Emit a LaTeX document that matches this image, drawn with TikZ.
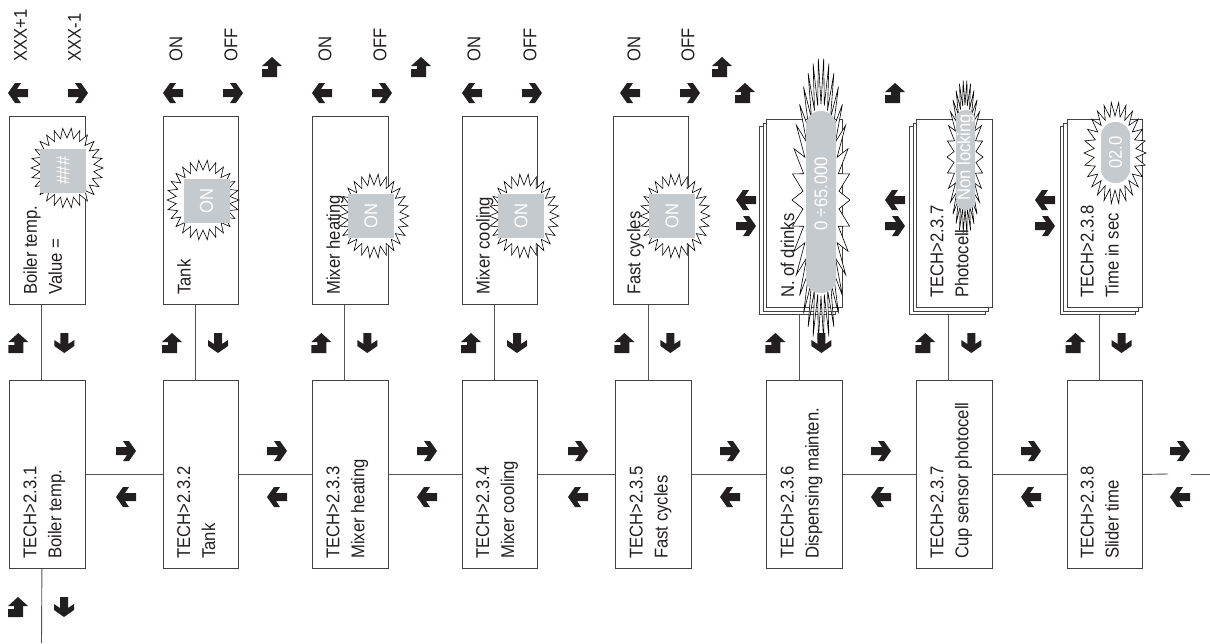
\documentclass[tikz,border=0pt]{standalone}
\usepackage{fontspec}
\setmainfont{Liberation Sans}[FakeStretch=0.9]
\definecolor{ink}{HTML}{231F20}
\definecolor{lcol}{HTML}{555555}
\definecolor{graybox}{HTML}{C5CACE}
\newcommand\zigstar[7]{%
  \pgfmathtruncatemacro\zzn{2*#7-1}%
  \draw[starline] ({#1+#3},{#2}) \foreach \k in {1,...,\zzn}{ -- ({#1+(#5+(#3-#5)*(1-mod(\k,2)))*cos(\k*180/#7)},{#2+(#6+(#4-#6)*(1-mod(\k,2)))*sin(\k*180/#7)}) } -- cycle;%
}
\tikzset{
  box/.style={draw=ink!85, line width=0.9pt, fill=white, inner sep=0pt, rectangle, minimum width=75.3pt, minimum height=188pt, anchor=north west},
  conn/.style={draw=lcol, line width=0.9pt},
  btxt/.style={rotate=90, anchor=north west, align=left, inner sep=0pt, text=ink, font=\fontsize{18.5}{25}\selectfont},
  lbl/.style={rotate=90, anchor=west, inner sep=0pt, text=ink, font=\fontsize{18.5}{22}\selectfont},
  wtxt/.style={rotate=90, inner sep=0pt, text=white, font=\fontsize{18.5}{22}\selectfont},
  starline/.style={draw=black, fill=white, line width=0.6pt, line join=miter},
  sq/.style={fill=graybox, draw=none, minimum width=46pt, minimum height=44pt, inner sep=0pt},
  pill/.style={fill=graybox, draw=none, inner sep=0pt},
  garrR/.pic={\fill[ink] (-10,-4) -- (1,-4) -- (-3,-10) -- (3,-10) -- (10,0) -- (3,10) -- (-3,10) -- (1,4) -- (-10,4) -- cycle;},
  garrL/.pic={\fill[ink] (10,-4) -- (-1,-4) -- (3,-10) -- (-3,-10) -- (-10,0) -- (-3,10) -- (3,10) -- (-1,4) -- (10,4) -- cycle;},
  garrD/.pic={\fill[ink] (-4,-10) -- (-4,1) -- (-10,-3) -- (-10,3) -- (0,10) -- (10,3) -- (10,-3) -- (4,1) -- (4,-10) -- cycle;},
  garrU/.pic={\fill[ink] (0,-10) -- (10,-1) -- (5,-1) -- (5,10) -- (-10,10) -- (-10,2) -- (-4,2) -- (-4,-1) -- (-10,-1) -- cycle;}
}
\begin{document}
\begin{tikzpicture}[x=1pt,y=-1pt]
\useasboundingbox (0,0) rectangle (1210,643);

% ---------- bottom row ----------
\foreach \L/\i in {9.3/1,163/2,312.3/3,462/4,615.4/5,766.4/6,916.3/7,1066.5/8}{
  \node[box] (b\i) at (\L,380) {};
}
\foreach \i/\j in {1/2,2/3,3/4,4/5,5/6,6/7,7/8}{
  \draw[conn] (b\i.east) -- (b\j.west);
}
\coordinate (rend1) at (1168,474);
\coordinate (rstart2) at (1191,474);
\coordinate (rend2) at (1210,474);
\draw[conn] (b8.east) -- (rend1);
\draw[conn] (rstart2) -- (rend2);
\coordinate (bend) at (41.5,643);
\draw[conn] ([xshift=-5.5pt]b1.south) -- (bend);

% ---------- top row single boxes ----------
\foreach \L/\i in {9.3/1,163/2,312.3/3,462/4,612.7/5}{
  \node[box] (t\i) at (\L,116) {};
}
% ---------- stacked boxes ----------
\foreach \L/\i in {766.4/6,916.3/7,1066.5/8}{
  \node[box] (t\i) at ({\L-7},126) {};
  \node[box] (t\i m) at ({\L-3.5},122.5) {};
  \node[box] (t\i f) at (\L,119) {};
}
% vertical connectors
\foreach \i in {1,...,8}{
  \draw[conn] ([xshift=-5.5pt]b\i.north) -- ([xshift=-5.5pt]b\i.north |- t\i.south);
}

% ---------- starbursts and displays ----------
\zigstar{67}{168}{36}{40}{27}{30}{26}
\zigstar{203}{200}{36}{40}{27}{30}{26}
\zigstar{374}{216}{35}{42}{26}{31}{26}
\zigstar{524}{216}{35}{42}{26}{31}{26}
\zigstar{675}{216}{35}{42}{26}{31}{26}
\zigstar{821}{200}{29}{142}{18}{96}{34}
\zigstar{965}{157}{18}{77}{11}{52}{30}
\zigstar{1115}{153}{31}{51}{21}{37}{26}

\node[sq] (g1) at (63,170.5) {};
\node[wtxt] (w1) at (g1) {\#\#\#};
\node[sq] (g2) at (206.5,201) {};
\node[wtxt] (w2) at (g2) {ON};
\node[sq] (g3) at (371,216) {};
\node[wtxt] (w3) at (g3) {ON};
\node[sq] (g4) at (521,216) {};
\node[wtxt] (w4) at (g4) {ON};
\node[sq] (g5) at (672,216) {};
\node[wtxt] (w5) at (g5) {ON};
\node[pill, minimum width=30pt, minimum height=182pt, rounded corners=14.5pt] (g6) at (821,202) {};
\node[wtxt] (w6) at (821,194) {0 ÷65.000};
\node[pill, minimum width=19pt, minimum height=100pt, rounded corners=9pt] (g7) at (965.5,160) {};
\begin{scope}
  \clip[rounded corners=9pt] (956,110) rectangle (975,210);
  \node[wtxt, anchor=west] (w7) at (965.5,201) {Non locking};
\end{scope}
\node[pill, minimum width=29pt, minimum height=61pt, rounded corners=14pt] (g8) at (1115.5,152.5) {};
\node[wtxt] (w8) at (g8) {02.0};

% ---------- box texts ----------
\foreach \L/\i/\t in {9.3/1/{Boiler temp.},163/2/{Tank},312.3/3/{Mixer heating},462/4/{Mixer cooling},615.4/5/{Fast cycles},766.4/6/{Dispensing mainten.},916.3/7/{Cup sensor photocell},1066.5/8/{Slider time}}{
  \node[btxt] (bt\i) at ({\L+14},559) {TECH>2.3.\i\\\t};
}
\node[btxt] (tt1) at (23.3,295) {Boiler temp.\\Value =};
\node[btxt] (tt2) at (177,295) {Tank};
\node[btxt] (tt3) at (326.3,295) {Mixer heating};
\node[btxt] (tt4) at (476,295) {Mixer cooling};
\node[btxt] (tt5) at (626.7,295) {Fast cycles};
\node[btxt] (tt6) at (780.4,298) {N. of drinks};
\node[btxt] (tt7) at (930.3,298) {TECH>2.3.7\\Photocell};
\node[btxt] (tt8) at (1080.5,298) {TECH>2.3.8\\Time in sec};

% ---------- labels above ----------
\node[lbl] (l1a) at (20.5,62) {XXX+1};
\node[lbl] (l1b) at (74.5,62) {XXX-1};
\node[lbl] (l2a) at (176,62) {ON};
\node[lbl] (l2b) at (231,62) {OFF};
\node[lbl] (l3a) at (325,62) {ON};
\node[lbl] (l3b) at (380,62) {OFF};
\node[lbl] (l4a) at (474,62) {ON};
\node[lbl] (l4b) at (530,62) {OFF};
\node[lbl] (l5a) at (634,62) {ON};
\node[lbl] (l5b) at (688,62) {OFF};

% ---------- arrows above top row ----------
\pic at (18,93) {garrL};   \pic at (78,93) {garrR};
\pic at (173,93) {garrL};  \pic at (233,93) {garrR};
\pic at (322,93) {garrL};  \pic at (382,93) {garrR};
\pic at (472,93) {garrL};  \pic at (532,93) {garrR};
\pic at (630,93) {garrL};  \pic at (690,93) {garrR};
\pic at (272,67) {garrU};
\pic at (421,67) {garrU};
\pic at (722,67) {garrU};
\pic at (745,93) {garrU};
\pic at (895,93) {garrU};
% side arrows of stacked boxes
\pic at (746,200) {garrL};  \pic at (746,226) {garrR};
\pic at (895,200) {garrL};  \pic at (895,226) {garrR};
\pic at (1045,200) {garrL}; \pic at (1045,226) {garrR};

% ---------- vertical arrows between rows ----------
\foreach \L in {9.3,163,312.3,462,615.4,766.4,916.3,1066.5}{
  \pic at ({\L+9},343) {garrU};
  \pic at ({\L+55},343) {garrD};
}
\pic at (18,607) {garrU};
\pic at (64,607) {garrD};

% ---------- horizontal arrows between bottom boxes ----------
\foreach \x in {126,277,427,578,730,881,1031,1180}{
  \pic at (\x,451) {garrR};
  \pic at (\x,497) {garrL};
}
\end{tikzpicture}
\end{document}
